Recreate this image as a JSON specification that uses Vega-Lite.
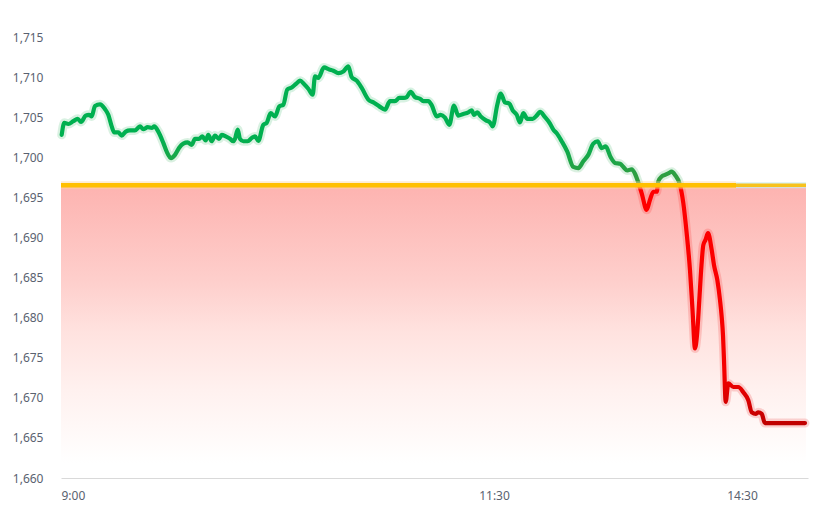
{
  "$schema": "https://vega.github.io/schema/vega-lite/v6.json",
  "width": 747,
  "height": 441,
  "autosize": {"type": "none"},
  "padding": {"left": 61, "top": 37, "right": 24, "bottom": 31},
  "background": "#ffffff",
  "config": {"view": {"stroke": null}},
  "datasets": {
    "price": [
      {"t":0.7,"v":1702.8},{"t":3.3,"v":1704.3},{"t":7.3,"v":1704.15},{"t":12.3,"v":1704.5},{"t":16.7,"v":1704.8},{"t":20,"v":1704.4},{"t":24.7,"v":1705.2},{"t":28,"v":1705.3},{"t":30.7,"v":1705.1},{"t":34,"v":1706.4},{"t":39,"v":1706.6},{"t":44,"v":1706.0},{"t":47.3,"v":1705.3},{"t":50.7,"v":1703.85},{"t":53.3,"v":1703.1},{"t":57.3,"v":1703.1},{"t":60.7,"v":1702.7},{"t":64.7,"v":1703.2},{"t":69,"v":1703.35},{"t":74,"v":1703.35},{"t":79,"v":1703.85},{"t":82.3,"v":1703.5},{"t":86.7,"v":1703.75},{"t":90.7,"v":1703.65},{"t":93.3,"v":1703.85},{"t":97.3,"v":1703.2},{"t":102.3,"v":1701.8},{"t":105.7,"v":1700.7},{"t":110,"v":1699.9},{"t":114,"v":1700.3},{"t":118,"v":1701.15},{"t":122.3,"v":1701.7},{"t":126.7,"v":1701.85},{"t":130.7,"v":1701.55},{"t":134,"v":1702.3},{"t":138,"v":1702.3},{"t":141.3,"v":1702.6},{"t":144.7,"v":1702.1},{"t":147.3,"v":1702.8},{"t":150.7,"v":1702.0},{"t":154,"v":1702.7},{"t":158,"v":1702.3},{"t":160.7,"v":1702.8},{"t":164.7,"v":1702.6},{"t":169,"v":1702.3},{"t":172.3,"v":1702.0},{"t":174,"v":1702.3},{"t":176.7,"v":1703.45},{"t":179,"v":1702.3},{"t":182.3,"v":1702.0},{"t":186.7,"v":1702.0},{"t":190.7,"v":1702.4},{"t":194,"v":1702.6},
      {"t":197.3,"v":1702.05},{"t":202.3,"v":1704.05},{"t":205.7,"v":1704.3},{"t":209.7,"v":1705.5},{"t":214,"v":1705.1},{"t":218.3,"v":1706.35},{"t":222.3,"v":1706.55},{"t":226.3,"v":1708.45},{"t":230.7,"v":1708.7},{"t":235,"v":1709.15},{"t":239,"v":1709.55},{"t":243,"v":1709.15},{"t":247.3,"v":1708.55},{"t":251.7,"v":1707.8},{"t":254,"v":1710.1},{"t":257.3,"v":1709.9},{"t":263,"v":1711.2},{"t":268.3,"v":1710.95},{"t":272.3,"v":1710.8},{"t":277.3,"v":1710.5},{"t":282.3,"v":1710.7},{"t":287.3,"v":1711.35},{"t":290.7,"v":1710.0},{"t":295.7,"v":1709.55},{"t":300.7,"v":1708.65},{"t":307.3,"v":1707.2},{"t":313,"v":1706.8},{"t":318.3,"v":1706.35},{"t":324,"v":1705.95},{"t":329,"v":1707.0},{"t":334,"v":1707.0},{"t":338.3,"v":1707.4},{"t":343,"v":1707.4},{"t":345.7,"v":1707.5},{"t":349.7,"v":1708.15},{"t":354,"v":1707.5},{"t":359,"v":1707.3},{"t":362.3,"v":1707.0},{"t":367.3,"v":1707.0},{"t":370.7,"v":1706.5},{"t":375.7,"v":1705.1},{"t":379.7,"v":1705.3},{"t":384,"v":1704.95},{"t":388.3,"v":1704.05},{"t":393,"v":1706.45},{"t":397.3,"v":1705.2},{"t":402.3,"v":1705.4},{"t":407.3,"v":1705.6},{"t":410.7,"v":1705.85},{"t":413,"v":1705.3},{"t":416.3,"v":1705.6},{"t":419.7,"v":1705.1},{"t":425,"v":1704.6},{"t":429,"v":1704.35},{"t":431.7,"v":1703.85},{"t":436.3,"v":1706.55},{"t":439.7,"v":1707.95},{"t":444,"v":1706.85},{"t":448.3,"v":1706.7},{"t":451.7,"v":1705.85},{"t":455.7,"v":1705.3},{"t":459,"v":1704.35},{"t":462.3,"v":1705.5},{"t":466.3,"v":1704.8},{"t":471.7,"v":1704.8},{"t":475.7,"v":1705.2},{"t":479,"v":1705.65},{"t":484,"v":1705.0},{"t":489,"v":1704.2},{"t":492.3,"v":1703.45},{"t":495.7,"v":1703.0},{"t":500.7,"v":1702.0},{"t":506.3,"v":1700.7},{"t":512.3,"v":1698.8},{"t":517.3,"v":1698.65},{"t":522.3,"v":1699.5},{"t":527.3,"v":1700.3},{"t":532.3,"v":1701.7},{"t":536.7,"v":1702.0},{"t":540.7,"v":1701.15},{"t":544.7,"v":1701.35},{"t":549.7,"v":1700.0},{"t":554,"v":1699.3},{"t":559,"v":1699.2},{"t":562.3,"v":1698.8},{"t":566.3,"v":1698.35},{"t":570.7,"v":1698.5},{"t":574,"v":1697.95},{"t":577.3,"v":1696.85},{"t":580.7,"v":1695.5},{"t":585.7,"v":1693.45},{"t":589,"v":1694.7},{"t":592.3,"v":1695.7},{"t":595.7,"v":1695.7},{"t":597.3,"v":1697.0},{"t":600.7,"v":1697.6},{"t":604,"v":1697.8},{"t":607.3,"v":1698.0},{"t":610.7,"v":1698.2},{"t":614,"v":1697.8},{"t":619,"v":1696.55},{"t":622.3,"v":1694.3},{"t":625.7,"v":1690.5},{"t":629,"v":1685.9},{"t":631.5,"v":1681.0},{"t":634,"v":1676.15},{"t":636,"v":1677.8},{"t":638.3,"v":1682.2},{"t":640.5,"v":1686.55},{"t":642.3,"v":1689.05},{"t":644.5,"v":1689.7},{"t":647,"v":1690.55},{"t":650.7,"v":1688.45},{"t":653,"v":1686.55},{"t":656.3,"v":1684.7},{"t":659,"v":1682.2},{"t":660.7,"v":1680.1},{"t":662,"v":1677.8},{"t":663,"v":1674.7},{"t":664.7,"v":1669.5},{"t":667.3,"v":1671.8},{"t":672.3,"v":1671.35},{"t":677.3,"v":1671.35},{"t":682.3,"v":1670.7},{"t":687.3,"v":1669.7},{"t":690.7,"v":1668.2},{"t":695,"v":1668.0},{"t":697.3,"v":1668.2},{"t":700.7,"v":1668.0},{"t":704,"v":1666.85},{"t":709,"v":1666.85},{"t":744,"v":1666.85}
    ],
    "band": [{"t":0,"top":1696.5,"bottom":1660},{"t":745,"top":1696.5,"bottom":1660}],
    "ref": [{"t0":0,"t1":675,"v":1696.5}],
    "ref2": [{"t0":675,"t1":745,"v":1696.5}]
  },
  "encoding": {
    "x": {
      "field": "t", "type": "quantitative",
      "scale": {"domain": [0, 747], "nice": false, "zero": false},
      "axis": {
        "title": null, "values": [0, 433, 681],
        "labelExpr": "datum.value == 0 ? '9:00' : datum.value == 433 ? '11:30' : '14:30'",
        "labelFlush": true, "grid": false, "ticks": false,
        "domainColor": "#d9d9d9", "domainWidth": 1,
        "labelPadding": 12, "labelFont": "Noto Sans", "labelFontSize": 12, "labelColor": "#5a6270"
      }
    }
  },
  "layer": [
    {
      "data": {"name": "band"},
      "mark": {
        "type": "area", "orient": "vertical",
        "color": {"gradient": "linear", "x1": 0, "y1": 0, "x2": 0, "y2": 1,
          "stops": [{"offset": 0, "color": "#fdb3b0"}, {"offset": 0.33, "color": "#fecfcc"}, {"offset": 0.5, "color": "#ffe2df"}, {"offset": 0.7, "color": "#fff1ef"}, {"offset": 0.95, "color": "#ffffff"}]}
      },
      "encoding": {
        "y": {"field": "top", "type": "quantitative",
          "scale": {"domain": [1660, 1715], "nice": false, "zero": false},
          "axis": {
            "title": null, "values": [1660,1665,1670,1675,1680,1685,1690,1695,1700,1705,1710,1715],
            "format": ",", "grid": false, "ticks": false, "domain": false,
            "labelPadding": 18, "labelFont": "Noto Sans", "labelFontSize": 12, "labelColor": "#5a6270"
          }},
        "y2": {"field": "bottom"}
      }
    },
    {
      "data": {"name": "price"},
      "mark": {
        "type": "line", "strokeWidth": 9, "opacity": 0.16, "strokeJoin": "round", "strokeCap": "round", "interpolate": "monotone",
        "color": {"gradient": "linear", "x1": 0, "y1": 0, "x2": 0, "y2": 1,
          "stops": [{"offset": 0, "color": "#00b050"}, {"offset": 0.3337, "color": "#1fa040"}, {"offset": 0.3337, "color": "#ff0000"}, {"offset": 1, "color": "#e00000"}]}
      },
      "encoding": {"y": {"field": "v", "type": "quantitative"}}
    },
    {
      "data": {"name": "price"},
      "mark": {
        "type": "line", "strokeWidth": 4.2, "strokeJoin": "round", "strokeCap": "round", "interpolate": "monotone",
        "color": {"gradient": "linear", "x1": 0, "y1": 0, "x2": 0, "y2": 1,
          "stops": [{"offset": 0, "color": "#00b050"}, {"offset": 0.2, "color": "#00b050"}, {"offset": 0.3337, "color": "#3a9a3e"}, {"offset": 0.3337, "color": "#ff0000"}, {"offset": 0.86, "color": "#f50000"}, {"offset": 1, "color": "#c00000"}]}
      },
      "encoding": {"y": {"field": "v", "type": "quantitative"}}
    },
    {
      "data": {"name": "ref2"},
      "mark": {"type": "rule", "strokeWidth": 6, "color": "#c6ecef", "opacity": 0.7},
      "encoding": {"x": {"field": "t0", "type": "quantitative"}, "x2": {"field": "t1"}, "y": {"field": "v", "type": "quantitative"}}
    },
    {
      "data": {"name": "ref2"},
      "mark": {"type": "rule", "strokeWidth": 3.5, "color": "#f7c21e"},
      "encoding": {"x": {"field": "t0", "type": "quantitative"}, "x2": {"field": "t1"}, "y": {"field": "v", "type": "quantitative"}}
    },
    {
      "data": {"name": "ref"},
      "mark": {"type": "rule", "strokeWidth": 8, "color": "#fdd89a", "opacity": 0.45},
      "encoding": {"x": {"field": "t0", "type": "quantitative"}, "x2": {"field": "t1"}, "y": {"field": "v", "type": "quantitative"}}
    },
    {
      "data": {"name": "ref"},
      "mark": {"type": "rule", "strokeWidth": 4.5, "color": "#ffc000"},
      "encoding": {"x": {"field": "t0", "type": "quantitative"}, "x2": {"field": "t1"}, "y": {"field": "v", "type": "quantitative"}}
    }
  ]
}
